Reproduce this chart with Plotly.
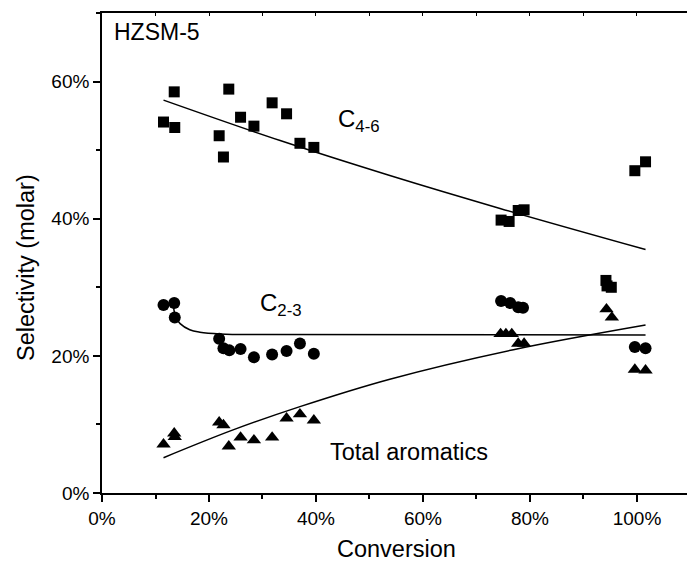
import plotly.graph_objects as go

# ---- data ----
c46_x = [11.5, 13.5, 13.6, 21.9, 22.7, 23.7, 25.9, 28.4, 31.8, 34.5, 37.0, 39.6,
         74.6, 76.1, 77.8, 78.9, 94.2, 94.4, 95.2, 99.6, 101.6]
c46_y = [54.1, 58.5, 53.3, 52.1, 49.0, 58.9, 54.8, 53.5, 56.9, 55.3, 51.0, 50.4,
         39.8, 39.6, 41.2, 41.3, 31.0, 30.2, 30.0, 47.0, 48.3]

c23_x = [11.5, 13.5, 13.6, 21.9, 22.7, 23.8, 25.9, 28.4, 31.8, 34.5, 37.0, 39.6,
         74.6, 76.3, 77.8, 78.7, 99.6, 101.6]
c23_y = [27.4, 27.7, 25.6, 22.5, 21.1, 20.8, 21.0, 19.8, 20.2, 20.7, 21.8, 20.3,
         28.0, 27.7, 27.1, 27.0, 21.3, 21.1]

aro_x = [11.5, 13.5, 13.6, 21.9, 22.7, 23.7, 25.9, 28.4, 31.8, 34.5, 37.0, 39.6,
         74.5, 75.5, 76.6, 77.8, 78.9, 94.3, 95.3, 99.6, 101.6]
aro_y = [7.1, 8.7, 8.2, 10.3, 9.9, 6.8, 8.1, 7.7, 8.1, 10.9, 11.5, 10.6,
         23.2, 23.2, 23.2, 21.8, 21.8, 26.8, 25.6, 18.0, 17.9]

# fitted trend curves
fit46_x = [11.5, 33.3, 53.8, 74.4, 101.6]
fit46_y = [57.3, 51.4, 46.3, 41.5, 35.5]
fit23_x = [13.3, 13.8, 14.6, 16.4, 18.3, 22.1, 30.0, 101.6]
fit23_y = [27.5, 25.6, 24.7, 23.8, 23.45, 23.2, 23.1, 23.05]
fitaro_x = [11.5, 24.5, 37.0, 53.8, 76.9, 101.6]
fitaro_y = [5.15, 9.2, 12.6, 16.6, 20.9, 24.5]

FONT = "Liberation Sans, Arial, sans-serif"
BLACK = "#000000"

fig = go.Figure()
fig.add_trace(go.Scatter(x=c46_x, y=c46_y, mode="markers",
                         marker=dict(symbol="square", size=11, color=BLACK)))
fig.add_trace(go.Scatter(x=c23_x, y=c23_y, mode="markers",
                         marker=dict(symbol="circle", size=12, color=BLACK)))
fig.add_trace(go.Scatter(x=aro_x, y=aro_y, mode="markers",
                         marker=dict(symbol="triangle-up", size=12.5, color=BLACK)))
for fx, fy in [(fit46_x, fit46_y), (fit23_x, fit23_y), (fitaro_x, fitaro_y)]:
    fig.add_trace(go.Scatter(x=fx, y=fy, mode="lines", line=dict(color=BLACK, width=1.5, shape="spline")))

# invisible trace on the top axis so that it is drawn
fig.add_trace(go.Scatter(x=[None], y=[None], xaxis="x2", showlegend=False))

XR = [0, 109.35]
TICKF = dict(size=19, family=FONT)
fig.update_layout(
    width=687, height=565,
    margin=dict(l=102, r=0, t=13, b=72),
    paper_bgcolor="white", plot_bgcolor="white",
    showlegend=False,
    font=dict(family=FONT, color=BLACK, size=19),
    xaxis=dict(range=XR, dtick=20, tick0=0, ticksuffix="%", showgrid=False, zeroline=False,
               showline=True, linecolor=BLACK, linewidth=1.6, ticks="outside", ticklen=7,
               tickwidth=1.5, tickcolor=BLACK, tickfont=TICKF,
               minor=dict(dtick=10, tick0=0, ticks="outside", ticklen=4, tickwidth=1.5, tickcolor=BLACK),
               title=None),
    xaxis2=dict(range=XR, overlaying="x", side="top", dtick=10, tick0=0, showgrid=False,
                zeroline=False, showline=True, linecolor=BLACK, linewidth=1.6, ticks="inside",
                ticklen=3, tickwidth=1, tickcolor=BLACK, showticklabels=False),
    yaxis=dict(range=[0, 70], dtick=20, tick0=0, ticksuffix="%", showgrid=False, zeroline=False,
               showline=True, linecolor=BLACK, linewidth=1.6, ticks="outside", ticklen=7,
               tickwidth=1.5, tickcolor=BLACK, tickfont=TICKF,
               minor=dict(dtick=10, tick0=0, ticks="outside", ticklen=4, tickwidth=1.5, tickcolor=BLACK),
               title=None),
)

ann = [
    dict(text="HZSM-5", x=0.0166, y=0.961, xref="paper", yref="paper", xanchor="left",
         yanchor="middle", font=dict(size=23)),
    dict(text="C<sub>4-6</sub>", x=48.0, y=54.3, xref="x", yref="y", xanchor="center",
         yanchor="middle", font=dict(size=24)),
    dict(text="C<sub>2-3</sub>", x=33.5, y=27.5, xref="x", yref="y", xanchor="center",
         yanchor="middle", font=dict(size=24)),
    dict(text="Total aromatics", x=42.2, y=6.0, xref="x", yref="y", xanchor="left",
         yanchor="middle", font=dict(size=23.5)),
    dict(text="Conversion", x=(396 - 102) / 585, y=-(549 - 493) / 480, xref="paper", yref="paper",
         xanchor="center", yanchor="middle", font=dict(size=23.5)),
    dict(text="Selectivity (molar)", x=(26 - 102) / 585, y=(493 - 268) / 480, xref="paper",
         yref="paper", xanchor="center", yanchor="middle", textangle=-90, font=dict(size=23.5)),
]
for a in ann:
    a["showarrow"] = False
fig.update_layout(annotations=ann)

fig.write_html("out.html")
